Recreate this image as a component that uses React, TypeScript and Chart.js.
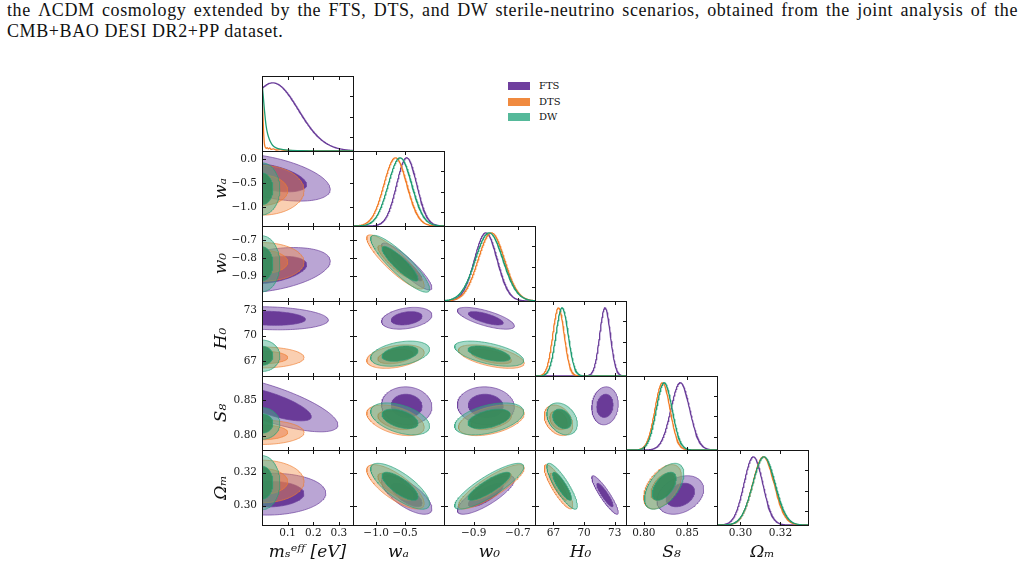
import React, { useEffect, useRef } from 'react';
import { Chart, registerables } from 'chart.js';

Chart.register(...registerables);

// ---------------- data ----------------
const MODEL_NAMES = ['FTS', 'DTS', 'DW'];
const PARAM_LABELS = ['mₛᵉᶠᶠ [eV]', 'wₐ', 'w₀', 'H₀', 'S₈', 'Ωₘ'];
const AXIS_MIN = [0, -1.4, -1.035, 65.2, 0.7795, 0.2883];
const AXIS_MAX = [0.355, 0.175, -0.622, 74.1, 0.8842, 0.3338];
const X_TICKS = [[0.1, 0.2, 0.3], [-1.0, -0.5], [-0.9, -0.7], [67, 70, 73], [0.8, 0.85], [0.3, 0.32]];
const Y_TICKS = [[], [0.0, -0.5, -1.0], [-0.7, -0.8, -0.9], [67, 70, 73], [0.8, 0.85], [0.3, 0.32]];
const TICK_DECIMALS = [1, 1, 1, 0, 2, 2];
const DENSITY_TICKS = [0.2, 0.5, 0.8];

// Gaussian summaries for (wa, w0, H0, S8, Om)
const FTS_MEAN = [-0.47, -0.845, 72.05, 0.842, 0.3065];
const FTS_SIGMA = [0.175, 0.052, 0.52, 0.0108, 0.0047];
const DTS_MEAN = [-0.665, -0.82, 67.5, 0.8215, 0.3115];
const DTS_SIGMA = [0.2, 0.06, 0.56, 0.0087, 0.0054];
const DW_MEAN = [-0.585, -0.83, 67.85, 0.8235, 0.3118];
const DW_SIGMA = [0.205, 0.063, 0.6, 0.0091, 0.0056];
// correlations: wa-w0, wa-H0, wa-S8, wa-Om, w0-H0, w0-S8, w0-Om, H0-S8, H0-Om, S8-Om
const FTS_CORR = [-0.9, 0.3, -0.05, -0.7, -0.7, -0.05, 0.8, 0.1, -0.9, 0.3];
const DTS_CORR = [-0.88, 0.35, -0.45, -0.75, -0.55, 0.45, 0.85, -0.3, -0.85, 0.5];
const DW_CORR = [-0.88, 0.35, -0.45, -0.75, -0.55, 0.45, 0.85, -0.3, -0.85, 0.55];
const PAIR_ORDER = [[0, 1], [0, 2], [0, 3], [0, 4], [1, 2], [1, 3], [1, 4], [2, 3], [2, 4], [3, 4]];

// m_s column contours: [ms centre, ms sigma, y centre, y sigma, corr] for rows wa, w0, H0, S8, Om
const FTS_MS_2D = [
  [0.03, 0.095, -0.38, 0.2, -0.5],
  [0.03, 0.095, -0.865, 0.05, 0.4],
  [0.03, 0.092, 72.05, 0.55, -0.15],
  [0.03, 0.107, 0.845, 0.016, -0.75],
  [0.03, 0.088, 0.307, 0.0051, 0.05],
];
const DTS_MS_2D = [
  [0, 0.066, -0.65, 0.21, 0],
  [0, 0.066, -0.82, 0.043, 0],
  [0, 0.066, 67.4, 0.5, 0],
  [0, 0.066, 0.8045, 0.0069, 0],
  [0, 0.066, 0.3147, 0.0052, 0],
];
const DW_MS_2D = [
  [0, 0.028, -0.62, 0.22, 0],
  [0, 0.028, -0.83, 0.062, 0],
  [0, 0.028, 67.6, 0.75, 0],
  [0, 0.028, 0.817, 0.009, 0],
  [0, 0.028, 0.314, 0.0066, 0],
];

// m_s 1D posteriors
const FTS_MS_1D = [0.042, 0.1];
const DTS_MS_X = [0, 0.002, 0.004, 0.006, 0.009, 0.012, 0.016, 0.02, 0.025, 0.03, 0.035, 0.045, 0.055, 0.07, 0.08, 0.1, 0.13, 0.2, 0.355];
const DTS_MS_Y = [1.0, 0.75, 0.5, 0.3, 0.12, 0.06, 0.04, 0.05, 0.03, 0.045, 0.025, 0.03, 0.015, 0.02, 0.012, 0.008, 0.006, 0.002, 0];
const DW_MS_X = [0, 0.005, 0.009, 0.016, 0.022, 0.029, 0.035, 0.042, 0.055, 0.068, 0.1, 0.15, 0.2, 0.355];
const DW_MS_Y = [1.0, 0.8, 0.62, 0.37, 0.25, 0.17, 0.12, 0.08, 0.045, 0.03, 0.012, 0.005, 0.002, 0];

// ---------------- styles ----------------
const LINE_COLORS = ['#6a3d9a', '#f27d27', '#1f9c72'];
const OUTER_FILLS = ['rgba(122,82,172,0.52)', 'rgba(242,140,70,0.42)', 'rgba(70,176,138,0.48)'];
const INNER_FILLS = ['rgba(102,54,150,0.95)', 'rgba(232,122,70,0.5)', 'rgba(48,138,90,0.88)'];
const EDGE_COLORS = ['rgba(106,61,154,0.85)', 'rgba(240,125,45,0.8)', 'rgba(40,160,120,0.85)'];
const LEGEND_COLORS = ['#6f3f9e', '#f08a3f', '#55b99a'];
const SERIF = "'DejaVu Serif', serif";
const COL_EDGES = [262, 353, 444, 535, 626, 717, 808];
const ROW_EDGES = [76, 151, 226, 301, 376, 450, 525];
const Y_AXIS_W = 62;
const X_AXIS_H = 42;
const K68 = Math.sqrt(2.3);
const K95 = Math.sqrt(6.18);

const MEANS = [FTS_MEAN, DTS_MEAN, DW_MEAN];
const SIGMAS = [FTS_SIGMA, DTS_SIGMA, DW_SIGMA];
const CORRS = [FTS_CORR, DTS_CORR, DW_CORR];
const MS_2D = [FTS_MS_2D, DTS_MS_2D, DW_MS_2D];

function fmt(v: number, d: number) {
  return Number(v).toFixed(d).replace('-', '\u2212');
}

function ellipse(cx: number, sx: number, cy: number, sy: number, rho: number, k: number) {
  const pts: { x: number; y: number }[] = [];
  const s = Math.sqrt(1 - rho * rho);
  const n = 140;
  for (let t = 0; t <= n; t++) {
    const a = (2 * Math.PI * t) / n;
    const u = Math.cos(a);
    const v = Math.sin(a);
    pts.push({ x: cx + k * sx * u, y: cy + k * sy * (rho * u + s * v) });
  }
  return pts;
}

function gaussCurve(mean: number, sigma: number, lo: number, hi: number) {
  const pts: { x: number; y: number }[] = [];
  const n = 240;
  for (let t = 0; t <= n; t++) {
    const x = lo + ((hi - lo) * t) / n;
    pts.push({ x, y: Math.exp(-0.5 * ((x - mean) / sigma) ** 2) });
  }
  return pts;
}

function contourParams(m: number, i: number, j: number) {
  if (i === 0) return MS_2D[m][j - 1];
  const a = i - 1;
  const b = j - 1;
  const idx = PAIR_ORDER.findIndex((p) => p[0] === a && p[1] === b);
  return [MEANS[m][a], SIGMAS[m][a], MEANS[m][b], SIGMAS[m][b], CORRS[m][idx]];
}

function oneD(m: number, i: number) {
  if (i === 0) {
    if (m === 0) return gaussCurve(FTS_MS_1D[0], FTS_MS_1D[1], AXIS_MIN[0], AXIS_MAX[0]);
    const xs = m === 1 ? DTS_MS_X : DW_MS_X;
    const ys = m === 1 ? DTS_MS_Y : DW_MS_Y;
    return xs.map((x, k) => ({ x, y: ys[k] }));
  }
  return gaussCurve(MEANS[m][i - 1], SIGMAS[m][i - 1], AXIS_MIN[i], AXIS_MAX[i]);
}

function framePlugin(xTicks: number[], yLeft: number[], yRight: number[]) {
  return {
    id: 'frameTicks',
    afterDraw(chart: any) {
      const { ctx, chartArea: a, scales } = chart;
      const L = Math.round(a.left) + 0.5;
      const R = Math.round(a.right) + 0.5;
      const T = Math.round(a.top) + 0.5;
      const B = Math.round(a.bottom) + 0.5;
      const tl = 3.5;
      ctx.save();
      ctx.strokeStyle = '#151515';
      ctx.lineWidth = 1;
      ctx.strokeRect(L, T, R - L, B - T);
      ctx.beginPath();
      for (const v of xTicks) {
        const p = Math.round(scales.x.getPixelForValue(v)) + 0.5;
        ctx.moveTo(p, B);
        ctx.lineTo(p, B - tl);
        ctx.moveTo(p, T);
        ctx.lineTo(p, T + tl);
      }
      for (const v of yLeft) {
        const p = Math.round(scales.y.getPixelForValue(v)) + 0.5;
        ctx.moveTo(L, p);
        ctx.lineTo(L + tl, p);
      }
      for (const v of yRight) {
        const p = Math.round(scales.y.getPixelForValue(v)) + 0.5;
        ctx.moveTo(R, p);
        ctx.lineTo(R - tl, p);
      }
      ctx.stroke();
      ctx.restore();
    },
  };
}

function buildConfig(i: number, j: number): any {
  const datasets: any[] = [];
  if (i === j) {
    for (let m = 0; m < 3; m++) {
      datasets.push({
        data: oneD(m, i),
        borderColor: LINE_COLORS[m],
        borderWidth: 1.3,
        pointRadius: 0,
        fill: false,
        tension: 0,
        cubicInterpolationMode: i === 0 && m > 0 ? 'monotone' : 'default',
      });
    }
  } else {
    for (let m = 0; m < 3; m++) {
      const [cx, sx, cy, sy, rho] = contourParams(m, i, j);
      datasets.push({
        data: ellipse(cx, sx, cy, sy, rho, K95),
        borderColor: EDGE_COLORS[m],
        backgroundColor: OUTER_FILLS[m],
        borderWidth: 0.8,
        pointRadius: 0,
        fill: 'shape',
        tension: 0,
      });
      datasets.push({
        data: ellipse(cx, sx, cy, sy, rho, K68),
        borderColor: EDGE_COLORS[m],
        backgroundColor: INNER_FILLS[m],
        borderWidth: 0.8,
        pointRadius: 0,
        fill: 'shape',
        tension: 0,
      });
    }
  }
  datasets.reverse();

  const isBottom = j === 5;
  const hasY = i === 0 && j > 0;
  const tickFont = { family: SERIF, size: 10.5 };
  const titleFont = { family: SERIF, size: 17, style: 'italic' as const };

  const xTicksMarks = X_TICKS[i];
  const yLeft = i === j ? [] : Y_TICKS[j];
  const yRight = i === j ? DENSITY_TICKS : Y_TICKS[j];

  return {
    type: 'line',
    data: { datasets },
    plugins: [framePlugin(xTicksMarks, yLeft, yRight)],
    options: {
      responsive: false,
      maintainAspectRatio: false,
      animation: false,
      devicePixelRatio: 1,
      events: [],
      layout: { padding: { left: 0, top: 0, right: 1, bottom: isBottom ? 0 : 1 } },
      plugins: { legend: { display: false }, tooltip: { enabled: false } },
      scales: {
        x: {
          type: 'linear',
          min: AXIS_MIN[i],
          max: AXIS_MAX[i],
          display: isBottom,
          grid: { display: false, drawTicks: false },
          border: { display: false },
          ticks: {
            font: tickFont,
            color: '#1a1a1a',
            padding: 2,
            autoSkip: false,
            maxRotation: 0,
            minRotation: 0,
            callback: (v: any) => fmt(v, TICK_DECIMALS[i]),
          },
          title: {
            display: true,
            text: PARAM_LABELS[i],
            font: titleFont,
            color: '#111',
            padding: { top: 0, bottom: 4 },
          },
          afterBuildTicks: (s: any) => {
            s.ticks = X_TICKS[i].map((v) => ({ value: v }));
          },
          afterFit: (s: any) => {
            if (!isBottom) {
              s.height = 0;
              return;
            }
            s.height = X_AXIS_H;
            s.paddingLeft = 0;
            s.paddingRight = 0;
          },
        },
        y: {
          type: 'linear',
          min: i === j ? 0 : AXIS_MIN[j],
          max: i === j ? 1.1 : AXIS_MAX[j],
          display: hasY,
          grid: { display: false, drawTicks: false },
          border: { display: false },
          ticks: {
            font: tickFont,
            color: '#1a1a1a',
            padding: 5,
            autoSkip: false,
            callback: (v: any) => fmt(v, TICK_DECIMALS[j]),
          },
          title: {
            display: true,
            text: PARAM_LABELS[j],
            font: titleFont,
            color: '#111',
            padding: { top: 11, bottom: 0 },
          },
          afterBuildTicks: (s: any) => {
            s.ticks = Y_TICKS[j].map((v) => ({ value: v }));
          },
          afterFit: (s: any) => {
            if (!hasY) {
              s.width = 0;
              return;
            }
            s.width = Y_AXIS_W;
            s.paddingTop = 0;
            s.paddingBottom = 0;
          },
        },
      },
    },
  };
}

function Panel({ i, j }: { i: number; j: number }) {
  const ref = useRef<HTMLCanvasElement>(null);
  const extraL = i === 0 && j > 0 ? Y_AXIS_W : 0;
  const w = COL_EDGES[i + 1] - COL_EDGES[i];
  const h = ROW_EDGES[j + 1] - ROW_EDGES[j];
  const cw = w + extraL + 1;
  const ch = h + (j === 5 ? X_AXIS_H : 1);
  useEffect(() => {
    const chart = new Chart(ref.current as HTMLCanvasElement, buildConfig(i, j));
    return () => chart.destroy();
  }, [i, j]);
  return (
    <canvas
      ref={ref}
      width={cw}
      height={ch}
      style={{ position: 'absolute', left: COL_EDGES[i] - extraL, top: ROW_EDGES[j], width: cw, height: ch }}
    />
  );
}

export default function App() {
  const panels: { i: number; j: number }[] = [];
  for (let j = 0; j < 6; j++) for (let i = 0; i <= j; i++) panels.push({ i, j });
  const caption = {
    position: 'absolute' as const,
    left: 7,
    fontFamily: "'Liberation Serif', serif",
    fontSize: 18,
    lineHeight: '22px',
    letterSpacing: '0.6px',
    color: '#111',
    whiteSpace: 'nowrap' as const,
  };
  return (
    <div style={{ position: 'absolute', left: 0, top: 0, width: 1027, height: 567, overflow: 'hidden', background: '#fff' }}>
      <div style={{ ...caption, top: -1.5, width: 1011, textAlign: 'justify', textAlignLast: 'justify' as any }}>
        the ΛCDM cosmology extended by the FTS, DTS, and DW sterile-neutrino scenarios, obtained from the joint analysis of the
      </div>
      <div style={{ ...caption, top: 20 }}>CMB+BAO DESI DR2+PP dataset.</div>
      {panels.map((p) => (
        <Panel key={`${p.i}-${p.j}`} i={p.i} j={p.j} />
      ))}
      {MODEL_NAMES.map((name, k) => (
        <React.Fragment key={name}>
          <div
            style={{
              position: 'absolute',
              left: 508,
              top: 82 + k * 15.5,
              width: 22,
              height: 8,
              background: LEGEND_COLORS[k],
            }}
          />
          <div
            style={{
              position: 'absolute',
              left: 539,
              top: 80 + k * 15.5,
              fontFamily: SERIF,
              fontSize: 10,
              lineHeight: '12px',
              color: '#111',
            }}
          >
            {name}
          </div>
        </React.Fragment>
      ))}
    </div>
  );
}
